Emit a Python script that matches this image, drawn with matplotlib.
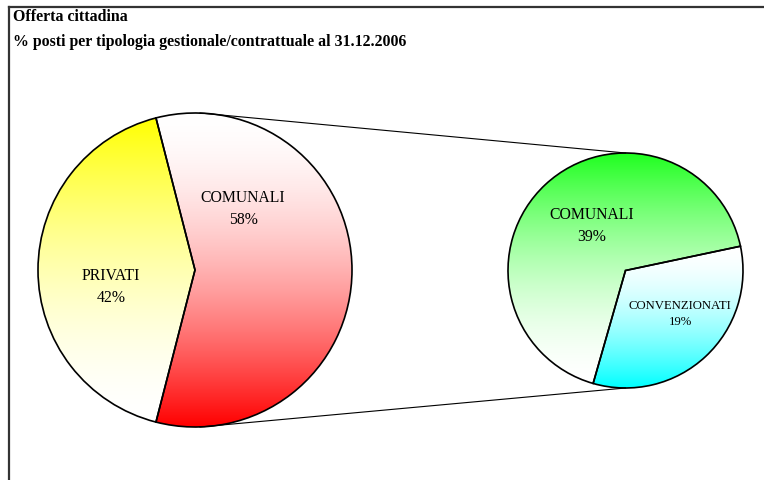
import numpy as np
import matplotlib
matplotlib.use("Agg")
import matplotlib.pyplot as plt
from matplotlib.colors import to_rgb

# data
main_labels = ["COMUNALI", "PRIVATI"]
main_values = [58, 42]
sub_labels = ["CONVENZIONATI", "COMUNALI"]
sub_values = [19, 39]

title_lines = ["Offerta cittadina",
               "% posti per tipologia gestionale/contrattuale al 31.12.2006"]

# gradient: (colour, which end is coloured) per slice
main_grad = [("#FF0000", "bottom"), ("#FFFF00", "top")]
sub_grad = [("#00FFFF", "bottom"), ("#1EFF1E", "top")]

W, H = 764, 480
fig = plt.figure(figsize=(W / 100, H / 100), dpi=100)
ax = fig.add_axes([0, 0, 1, 1])

serif = ["Liberation Serif", "DejaVu Serif"]


def gradient_fill(wedges, grads, power=1.7):
    for w, (col, end) in zip(wedges, grads):
        bb = w.get_path().get_extents()
        t = np.linspace(0, 1, 256)[:, None]  # 0 at top
        k = t if end == "bottom" else 1 - t
        k = k ** power
        c = np.array(to_rgb(col))
        img = (np.ones(3)[None, :] * (1 - k) + c[None, :] * k)[:, None, :]
        im = ax.imshow(img, extent=[bb.x0, bb.x1, bb.y0, bb.y1],
                       origin="upper", aspect="auto", zorder=1,
                       interpolation="bilinear")
        im.set_clip_path(w)
        w.set_facecolor("none")
        w.set_zorder(2)


# main pie
c1, r1 = (195, 210), 157
start1 = -main_values[0] / sum(main_values) * 360 / 2
w1, _ = ax.pie(main_values, center=c1, radius=r1, startangle=start1,
               counterclock=True, frame=True,
               wedgeprops=dict(edgecolor="black", linewidth=1.2))
gradient_fill(w1, main_grad)

# sub pie
c2, r2 = (625.5, 209.5), 117.5
w2, _ = ax.pie(sub_values, center=c2, radius=r2, startangle=-106,
               counterclock=True, frame=True,
               wedgeprops=dict(edgecolor="black", linewidth=1.2))
gradient_fill(w2, sub_grad)

ax.set_xlim(0, W)
ax.set_ylim(0, H)
ax.set_aspect("equal")
ax.axis("off")

# connector lines
ax.plot([c1[0] + 5, c2[0]], [c1[1] + r1, c2[1] + r2], color="black", lw=0.8, zorder=3)
ax.plot([c1[0] + 5, c2[0]], [c1[1] - r1, c2[1] - r2], color="black", lw=0.8, zorder=3)

# slice labels
tot1 = sum(main_values)
lab_pos1 = [(243, H - 209), (111, H - 287)]
for (x, y), lab, v in zip(lab_pos1, main_labels, main_values):
    ax.text(x, y, f"{lab}\n{round(v / tot1 * 100)}%", ha="center", va="center",
            family=serif, fontsize=11.3, linespacing=1.45, zorder=4)

lab_pos2 = [(680, H - 314), (592, H - 226)]
sizes2 = [9.2, 11.3]
for (x, y), lab, v, fs in zip(lab_pos2, sub_labels, sub_values, sizes2):
    ax.text(x, y, f"{lab}\n{round(v / tot1 * 100)}%", ha="center", va="center",
            family=serif, fontsize=fs, linespacing=1.45, zorder=4)

# title
fig.text(13 / W, 1 - 17 / H, title_lines[0], ha="left", va="center",
         family=serif, fontsize=11.4, fontweight="bold")
fig.text(13 / W, 1 - 42 / H, title_lines[1], ha="left", va="center",
         family=serif, fontsize=11.4, fontweight="bold")

# chart frame (top and left edges visible)
ax.plot([8.5, W], [H - 6.5, H - 6.5], color="#333333", lw=1.6, zorder=5, clip_on=False)
ax.plot([8.5, 8.5], [0, H - 6.5], color="#333333", lw=1.6, zorder=5, clip_on=False)

fig.savefig("out.png", dpi=100)
